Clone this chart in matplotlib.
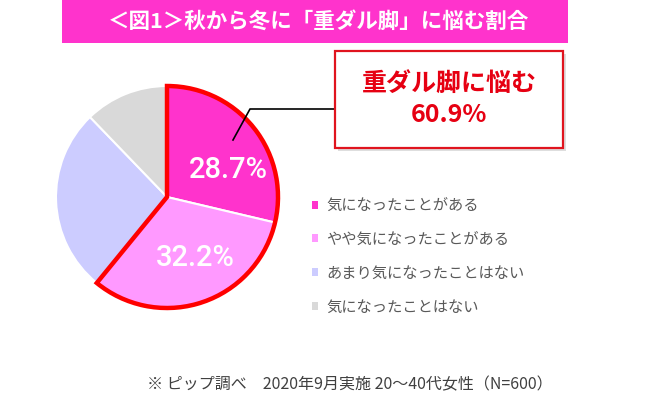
import matplotlib
matplotlib.use("Agg")
import matplotlib.pyplot as plt
from matplotlib.patches import Wedge, Rectangle, Patch
import numpy as np

# ---- data ----
categories = ["気になったことがある", "やや気になったことがある",
              "あまり気になったことはない", "気になったことはない"]
values = [28.7, 32.2, 26.9, 12.2]
colors = ["#ff33cc", "#ff99ff", "#ccccff", "#d9d9d9"]
shown_labels = ["28.7%", "32.2%"]
title = "＜図1＞秋から冬に「重ダル脚」に悩む割合"
callout_text = "重ダル脚に悩む"
callout_value = "60.9%"
footer = "※ ピップ調べ　2020年9月実施 20～40代女性（N=600）"

JP = ["Noto Sans CJK JP", "DejaVu Sans"]
W, H = 650, 407
fig = plt.figure(figsize=(W / 100, H / 100), dpi=100)
ax = fig.add_axes([0, 0, 1, 1])

def Y(py):
    return H - py

# pie
cx, cy, r = 167, Y(197), 111
wedges, _ = ax.pie(values, colors=colors, startangle=90, counterclock=False,
                   center=(cx, cy), radius=r, frame=True,
                   wedgeprops=dict(edgecolor="white", linewidth=1.5))
ax.set_xlim(0, W)
ax.set_ylim(0, H)
ax.set_aspect("equal")
ax.axis("off")

# title banner
ax.add_patch(Rectangle((62, Y(43)), 506, 43, facecolor="#ff33cc", edgecolor="none"))
ax.text(318, Y(21), title, family=JP, fontsize=15.5, fontweight="bold",
        color="white", ha="center", va="center")

# red outline around the first two slices
tot = sum(values)
end_ang = 90
start_ang = 90 - (values[0] + values[1]) / tot * 360
ax.add_patch(Wedge((cx, cy), r, start_ang, end_ang, facecolor="none",
                   edgecolor="#ff0000", linewidth=3.2, joinstyle="miter", zorder=5))

# percent labels
ax.text(228, Y(170), shown_labels[0], fontsize=21, color="white", fontweight="medium",
        family=["Roboto", "DejaVu Sans"], ha="center", va="center", zorder=6)
ax.text(195, Y(258), shown_labels[1], fontsize=21, color="white", fontweight="medium",
        family=["Roboto", "DejaVu Sans"], ha="center", va="center", zorder=6)

# leader line
ax.plot([233, 250, 335], [Y(140), Y(109), Y(109)], color="black", linewidth=1.2, zorder=7)

# callout box with shadow
ax.add_patch(Rectangle((338, Y(151)), 228, 97, facecolor="#c8c8c8", edgecolor="none",
                       alpha=0.6, zorder=6))
ax.add_patch(Rectangle((335, Y(148)), 228, 97, facecolor="white", edgecolor="#e0141e",
                       linewidth=1.6, zorder=7))
ax.text(449, Y(84), callout_text, family=JP, fontsize=18, fontweight="bold",
        color="#e60012", ha="center", va="center", zorder=8)
ax.text(449, Y(115), callout_value, family=JP, fontsize=18, fontweight="bold",
        color="#e60012", ha="center", va="center", zorder=8)

# legend
handles = [Patch(facecolor=c, edgecolor="none") for c in colors]
leg = ax.legend(handles, categories, loc="upper left",
                bbox_to_anchor=(312 / W, 1 - 197 / H), bbox_transform=fig.transFigure,
                frameon=False, prop=dict(family=JP, size=11),
                handlelength=0.42, handleheight=0.42, handletextpad=0.5,
                labelspacing=1.1, borderpad=0, borderaxespad=0)
for t in leg.get_texts():
    t.set_color("#595959")

# footer
ax.text(350, Y(385), footer, family=JP, fontsize=11.5, color="#404040",
        ha="center", va="center")

fig.savefig("out.png", dpi=100)
